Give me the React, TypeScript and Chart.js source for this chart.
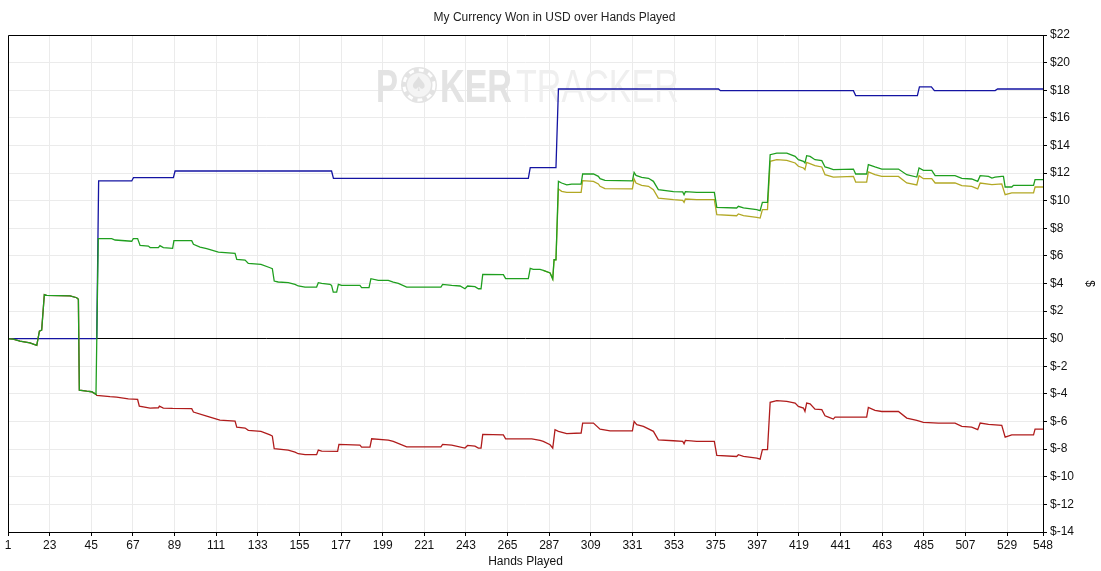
import React, { useEffect, useRef } from "react";
import { Chart, registerables } from "chart.js";

Chart.register(...registerables);

const TITLE = "My Currency Won in USD over Hands Played";
const X_TITLE = "Hands Played";
const Y_TITLE = "$";
const X_TICKS = [1, 23, 45, 67, 89, 111, 133, 155, 177, 199, 221, 243, 265, 287, 309, 331, 353, 375, 397, 419, 441, 463, 485, 507, 529, 548];
const Y_MIN = -14;
const Y_MAX = 22;

// [hand, USD]
const netWon: [number, number][] = [
  [1, 0], [3.8, -0.03], [7.3, -0.17], [12.6, -0.3], [16.2, -0.48], [17.6, 0.55], [18.8, 0.63], [20.2, 3.2], [21.4, 3.14],
  [33.8, 3.1], [37.3, 2.97], [38.2, 2.85], [38.7, -3.72], [42.6, -3.8], [45.2, -3.84], [47.5, -4.03],
  [48.7, 7.25], [55.8, 7.25], [57.6, 7.15], [64.6, 7.08], [66.4, 7.06], [67.2, 7.25], [69.5, 7.25], [70.8, 6.76],
  [75.2, 6.71], [76.1, 6.6], [80.5, 6.6], [81.3, 6.74], [83.1, 6.6], [88, 6.55], [88.7, 7.1], [98.1, 7.1], [99, 6.84],
  [102.5, 6.64], [106, 6.52], [112.2, 6.28], [121, 6.18], [121.9, 5.75], [126.3, 5.7], [128, 5.46], [134.7, 5.39],
  [139.5, 5.14], [140.7, 5.07], [141.7, 4.18], [143.8, 4.11], [149.1, 4.06], [152.7, 3.94], [154.4, 3.82], [158, 3.74],
  [164.1, 3.74], [165, 4.06], [166.8, 4.01], [171.2, 3.94], [172, 3.86], [172.9, 3.38], [174.7, 3.38], [175.6, 3.94],
  [177.3, 3.86], [187, 3.86], [187.9, 3.7], [191.8, 3.7], [192.8, 4.35], [196.7, 4.23], [202, 4.23], [204.6, 4.1],
  [207.3, 4.01], [211.7, 3.74], [229.8, 3.74], [230.7, 3.94], [235.5, 3.86], [239.9, 3.82], [242.5, 3.62], [243.9, 3.82],
  [247.8, 3.77], [249.6, 3.62], [251, 3.62], [251.9, 4.66], [262.8, 4.64], [264, 4.35], [276, 4.35], [277, 5.1],
  [278.6, 5.02], [282.2, 5.02], [283.9, 4.95], [287.5, 4.76], [288.9, 4.32], [289.6, 5.72], [290.6, 5.72],
  [291.9, 11.4], [293.6, 11.28], [296.3, 11.14], [298.9, 11.2], [303.9, 11.2], [304.7, 11.93], [310.4, 11.93],
  [313, 11.76], [313.9, 11.59], [316.5, 11.47], [331, 11.43], [331.9, 12.05], [332.9, 11.83], [335.9, 11.69],
  [339.5, 11.62], [342.1, 11.4], [344.7, 10.8], [352.7, 10.65], [357.6, 10.63], [358.3, 10.43], [359, 10.65],
  [365, 10.6], [374.3, 10.6], [375.6, 9.52], [386.1, 9.47], [387, 9.59], [389.7, 9.47], [396.7, 9.35], [398.5, 9.28],
  [399.7, 9.88], [402.4, 9.88], [403.8, 13.33], [407.3, 13.45], [412.6, 13.45], [417, 13.21], [418.7, 12.97],
  [421.4, 12.85], [422.2, 12.73], [423.1, 13.26], [424.9, 13.21], [427.5, 12.97], [431.1, 12.9], [432.8, 12.44],
  [434.6, 12.37], [437.2, 12.25], [447.8, 12.29], [449, 11.93], [454.8, 11.93], [455.7, 12.61], [459.2, 12.44],
  [462.8, 12.29], [471.6, 12.29], [476, 11.88], [481.3, 11.71], [482.5, 12.37], [484.8, 12.2], [489.2, 12.2],
  [491, 11.81], [501.5, 11.81], [505.1, 11.62], [510.3, 11.57], [513.5, 11.4], [514.8, 11.81], [519.2, 11.76],
  [521, 11.64], [522.7, 11.71], [526.2, 11.76], [527.1, 11.76], [528, 10.99], [531.5, 10.99], [532.4, 11.11],
  [543, 11.11], [543.8, 11.52], [548, 11.52],
];

const allInAdjusted: [number, number][] = [
  [283.9, 4.95], [287.5, 4.76], [288.9, 4.32], [289.6, 5.72], [290.6, 5.72],
  [291.9, 10.85], [293.6, 10.68], [296.3, 10.6], [303.9, 10.6], [304.7, 11.45], [310.4, 11.4], [313, 11.21],
  [313.9, 11.04], [316.5, 10.87], [331, 10.85], [331.9, 11.57], [332.9, 11.28], [335.9, 11.11], [339.5, 11.04],
  [342.1, 10.8], [344.7, 10.19], [352.7, 10.07], [357.6, 10.02], [358.3, 9.88], [359, 10.12], [365, 10.07],
  [374.3, 10.07], [375.6, 8.99], [386.1, 8.91], [387, 9.04], [389.7, 8.91], [396.7, 8.79], [398.5, 8.74],
  [399.7, 9.35], [402.4, 9.35], [403.8, 12.85], [407.3, 12.97], [412.6, 12.92], [417, 12.73], [418.7, 12.49],
  [421.4, 12.37], [422.2, 12.25], [423.1, 12.78], [427.5, 12.54], [431.1, 12.44], [432.8, 11.88], [437.2, 11.71],
  [447.8, 11.76], [449, 11.35], [454.8, 11.35], [455.7, 12.08], [459.2, 11.88], [462.8, 11.76], [471.6, 11.76],
  [476, 11.28], [481.3, 11.14], [482.5, 11.81], [484.8, 11.59], [489.2, 11.59], [491, 11.28], [501.5, 11.28],
  [505.1, 11.09], [510.3, 11.04], [513.5, 10.85], [514.8, 11.28], [521, 11.16], [526.2, 11.21], [528, 10.43],
  [531.5, 10.56], [543, 10.56], [543.8, 10.99], [548, 10.99],
];

const nonShowdown: [number, number][] = [
  [1, 0], [3.8, -0.03], [7.3, -0.17], [12.6, -0.3], [16.2, -0.48], [17.6, 0.55], [18.8, 0.63], [20.2, 3.2], [21.4, 3.14],
  [33.8, 3.1], [37.3, 2.97], [38.2, 2.85], [38.7, -3.72], [42.6, -3.8], [45.2, -3.84], [47.5, -4.03],
  [47.9, -4.1], [54.9, -4.2], [58.4, -4.23], [64.6, -4.35], [69.5, -4.4], [70.4, -4.88], [76.1, -5.02], [80.5, -5.0],
  [81, -4.88], [83.1, -5.02], [88, -5.05], [98.1, -5.07], [99, -5.31], [106, -5.6], [113, -5.9], [121, -5.97],
  [121.9, -6.4], [126.3, -6.47], [128, -6.64], [134.7, -6.71], [139.5, -6.96], [140.7, -7.05], [141.7, -7.97],
  [149.1, -8.07], [152.7, -8.21], [154.4, -8.33], [158, -8.4], [164.1, -8.4], [165, -8.07], [166.8, -8.14],
  [175.2, -8.16], [175.9, -7.66], [187, -7.71], [187.9, -7.85], [192.3, -7.85], [193.2, -7.25], [202, -7.34],
  [204.6, -7.44], [211.7, -7.83], [229.8, -7.83], [230.7, -7.66], [235.5, -7.71], [242.5, -7.92], [243.9, -7.73],
  [247.8, -7.78], [249.6, -7.92], [251, -7.92], [251.9, -6.93], [262.8, -6.96], [264, -7.25], [277.8, -7.25],
  [282.2, -7.37], [283.9, -7.44], [287.5, -7.68], [288.9, -7.92], [290.1, -6.59], [291.9, -6.71], [296.3, -6.88],
  [303.9, -6.83], [304.7, -6.11], [310.4, -6.11], [313.9, -6.55], [319.2, -6.67], [331, -6.67], [331.9, -5.99],
  [333.3, -6.23], [336.8, -6.35], [342.1, -6.71], [344.7, -7.32], [352.7, -7.39], [357.6, -7.44], [358.3, -7.61],
  [359, -7.37], [365, -7.44], [374.3, -7.44], [375.6, -8.45], [386.1, -8.53], [387, -8.4], [389.7, -8.53],
  [396.7, -8.65], [398.5, -8.72], [399.7, -8.04], [402.4, -8.04], [403.8, -4.61], [407.3, -4.49], [412.6, -4.54],
  [417, -4.66], [418.7, -4.9], [421.4, -5.02], [422.2, -5.27], [423.1, -4.66], [424.9, -4.71], [427.5, -5.1],
  [431.1, -5.14], [432.8, -5.58], [434.6, -5.68], [437.2, -5.82], [438.1, -5.68], [454.8, -5.68], [455.7, -4.98],
  [459.2, -5.19], [462.8, -5.27], [471.6, -5.27], [476, -5.75], [481.3, -5.92], [484.8, -6.06], [492.7, -6.11],
  [501.5, -6.11], [505.1, -6.35], [510.3, -6.4], [513.5, -6.59], [514.8, -6.11], [519.2, -6.2], [526.2, -6.28],
  [528, -7.13], [531.5, -6.96], [543, -6.96], [543.8, -6.55], [548, -6.55],
];

const showdown: [number, number][] = [
  [1, 0], [47.9, 0], [48.9, 11.43], [66.4, 11.43], [67.3, 11.67], [88.4, 11.67], [89.3, 12.15], [172, 12.15],
  [173, 11.62], [276, 11.62], [277, 12.39], [290.6, 12.39], [291.9, 18.09], [376.5, 18.09], [377.5, 17.97],
  [447.8, 17.97], [449, 17.61], [481.6, 17.61], [482.7, 18.24], [489, 18.24], [490.6, 17.97], [522.7, 17.97],
  [524, 18.09], [548, 18.09],
];

const FONT = "'Liberation Sans', Arial, sans-serif";

const framePlugin = {
  id: "frameAndMark",
  beforeDatasetsDraw(chart: any) {
    const { ctx, chartArea: a } = chart;
    ctx.save();
    // watermark
    ctx.beginPath();
    ctx.rect(a.left, a.top, a.right - a.left, a.bottom - a.top);
    ctx.clip();
    ctx.textBaseline = "alphabetic";
    const base = 102;
    const drawFit = (txt: string, x: number, w: number, font: string, color: string) => {
      ctx.font = font;
      const mw = ctx.measureText(txt).width;
      ctx.save();
      ctx.translate(x, base);
      ctx.scale(w / mw, 1);
      ctx.fillStyle = color;
      ctx.fillText(txt, 0, 0);
      ctx.restore();
    };
    drawFit("P", 376, 22, "bold 47px " + FONT, "#e3e3e3");
    drawFit("KER", 440, 72, "bold 47px " + FONT, "#e3e3e3");
    drawFit("TRACKER", 516, 163, "47px " + FONT, "#efefef");
    // chip
    const cx = 419, cy = 85, r = 18;
    ctx.fillStyle = "#e3e3e3";
    ctx.beginPath();
    ctx.arc(cx, cy, r, 0, Math.PI * 2);
    ctx.fill();
    ctx.strokeStyle = "#ffffff";
    ctx.lineWidth = 3;
    ctx.setLineDash([5, 5]);
    ctx.beginPath();
    ctx.arc(cx, cy, r - 3, 0, Math.PI * 2);
    ctx.stroke();
    ctx.setLineDash([]);
    ctx.fillStyle = "#f4f4f4";
    ctx.beginPath();
    ctx.arc(cx, cy, r - 6, 0, Math.PI * 2);
    ctx.fill();
    ctx.fillStyle = "#e0e0e0";
    ctx.font = "20px 'DejaVu Sans', sans-serif";
    ctx.textAlign = "center";
    ctx.textBaseline = "middle";
    ctx.fillText("\u2660", cx, cy + 1);
    ctx.restore();
  },
  afterDatasetsDraw(chart: any) {
    const { ctx, chartArea: a } = chart;
    ctx.save();
    ctx.strokeStyle = "#000";
    ctx.lineWidth = 1;
    ctx.beginPath();
    ctx.moveTo(Math.round(a.left) + 0.5, Math.round(a.bottom));
    ctx.lineTo(Math.round(a.left) + 0.5, Math.round(a.top) + 0.5);
    ctx.lineTo(Math.round(a.right), Math.round(a.top) + 0.5);
    ctx.stroke();
    ctx.restore();
  },
};

const toXY = (pts: [number, number][]) => pts.map(([x, y]) => ({ x, y }));

export default function App() {
  const ref = useRef<HTMLCanvasElement | null>(null);
  useEffect(() => {
    if (!ref.current) return;
    const line = (label: string, pts: [number, number][], color: string) => ({
      label,
      data: toXY(pts),
      borderColor: color,
      backgroundColor: color,
      borderWidth: 1.3,
      pointRadius: 0,
      tension: 0,
      fill: false,
    });
    const chart = new Chart(ref.current, {
      type: "line",
      data: {
        datasets: [
          line("Net Won", netWon, "#1f9f1f"),
          line("All-in Adjusted", allInAdjusted, "#b2a824"),
          line("Non-Showdown Winnings", nonShowdown, "#b01c1c"),
          line("Showdown Winnings", showdown, "#1414a2"),
        ],
      },
      options: {
        responsive: false,
        animation: false,
        devicePixelRatio: 1,
        layout: { padding: { left: 8, right: 0, top: 0, bottom: 0 } },
        plugins: {
          legend: { display: false },
          tooltip: { enabled: false },
          title: {
            display: true,
            text: TITLE,
            color: "#222",
            font: { family: FONT, size: 12, weight: "normal" },
            padding: { top: 10, bottom: 10.6 },
          },
        },
        scales: {
          x: {
            type: "linear",
            min: 1,
            max: 548,
            afterBuildTicks: (s: any) => {
              s.ticks = X_TICKS.map((v) => ({ value: v }));
            },
            afterFit: (s: any) => {
              s.height = 39;
            },
            ticks: {
              autoSkip: false,
              maxRotation: 0,
              color: "#111",
              padding: 2,
              font: { family: FONT, size: 12 },
            },
            grid: {
              color: "#ebebeb",
              tickColor: "#000",
              tickLength: 4,
              lineWidth: 1,
            },
            border: { display: true, color: "#000", width: 1 },
            title: {
              display: true,
              text: X_TITLE,
              color: "#111",
              font: { family: FONT, size: 12 },
              padding: { top: 0, bottom: 2 },
            },
          },
          y: {
            type: "linear",
            position: "right",
            min: Y_MIN,
            max: Y_MAX,
            afterFit: (s: any) => {
              s.width = 58;
            },
            ticks: {
              stepSize: 2,
              color: "#111",
              padding: 3,
              font: { family: FONT, size: 12 },
              callback: (v: any) => "$" + v,
            },
            grid: {
              color: (c: any) => (c.tick && c.tick.value === 0 ? "#000" : "#ebebeb"),
              tickColor: "#000",
              tickLength: 4,
              lineWidth: 1,
            },
            border: { display: true, color: "#000", width: 1 },
            title: {
              display: true,
              text: Y_TITLE,
              color: "#111",
              font: { family: FONT, size: 12 },
              padding: { top: 4, bottom: 0 },
            },
          },
        },
      },
      plugins: [framePlugin],
    } as any);
    return () => chart.destroy();
  }, []);
  return (
    <div style={{ position: "absolute", left: 0, top: 0, width: 1101, height: 571, background: "#fff" }}>
      <canvas ref={ref} width={1101} height={571} style={{ display: "block", width: 1101, height: 571 }} />
    </div>
  );
}
